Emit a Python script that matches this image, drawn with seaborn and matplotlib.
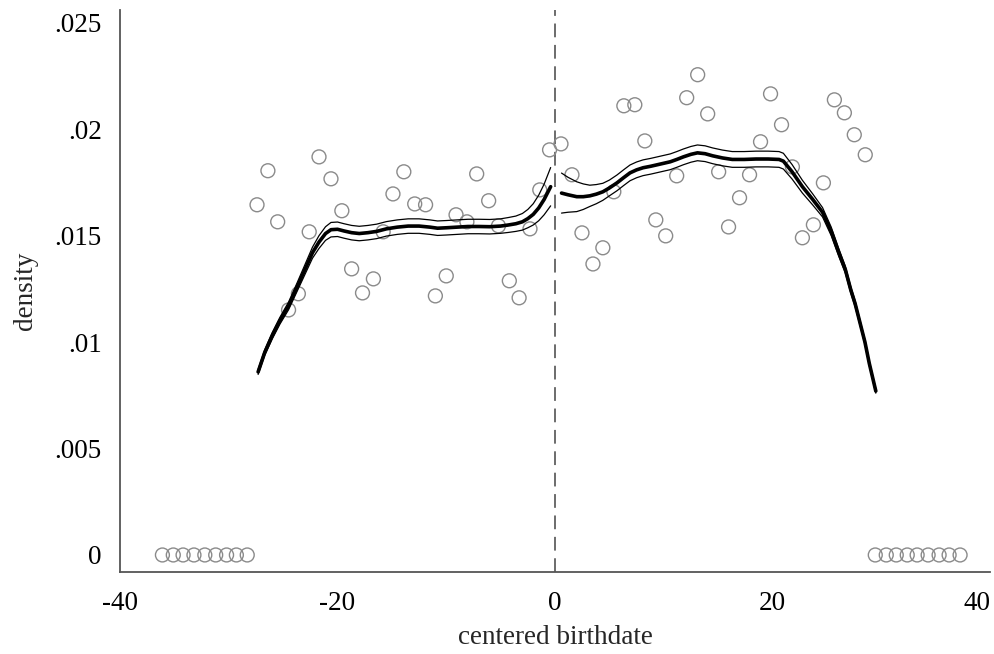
import numpy as np
import pandas as pd
import seaborn as sns
import matplotlib.pyplot as plt

sns.set_theme(style="white")
plt.rcParams['font.family'] = ['Liberation Serif', 'DejaVu Serif']

# binned densities
x_zero_left = [-36.1, -35.1, -34.2, -33.2, -32.2, -31.2, -30.2, -29.3, -28.3]
x_left = [-27.4, -26.4, -25.5, -24.5, -23.6, -22.6, -21.7, -20.6, -19.6, -18.7,
          -17.7, -16.7, -15.8, -14.9, -13.9, -12.9, -11.9, -11.0, -10.0, -9.1,
          -8.1, -7.2, -6.1, -5.2, -4.2, -3.3, -2.3, -1.4, -0.5]
dens_left = [.01645, .01805, .01565, .01151, .01227, .01518, .0187, .01767, .01617, .01344,
             .01231, .01297, .01518, .01696, .0180, .01649, .01645, .01217, .01311, .01598,
             .01565, .0179, .01664, .01546, .01288, .01208, .01532, .01715, .01903]
x_right = [0.55, 1.56, 2.48, 3.49, 4.40, 5.41, 6.33, 7.34, 8.26, 9.27,
           10.18, 11.19, 12.11, 13.12, 14.04, 15.05, 15.96, 16.97, 17.89, 18.90,
           19.82, 20.83, 21.83, 22.75, 23.76, 24.68, 25.69, 26.61, 27.52, 28.53]
dens_right = [.01931, .01786, .01513, .01367, .01443, .01706, .0211, .02115, .01945, .01574,
              .01499, .01781, .02148, .02256, .02072, .0180, .01541, .01678, .01786, .01941,
              .02166, .02021, .01823, .0149, .01551, .01748, .02138, .02077, .01974, .0188]
x_zero_right = [29.45, 30.46, 31.38, 32.39, 33.30, 34.31, 35.32, 36.24, 37.25]

# fitted density with confidence band, each side of the cutoff
fit_x_left = [-27.3, -26.7, -26.0, -25.3, -24.5, -23.7, -23.0, -22.3, -21.7, -21.1,
              -20.6, -20.0, -19.4, -18.7, -18.0, -17.2, -16.4, -15.5, -14.5, -13.5,
              -12.5, -11.5, -10.8, -10.0, -9.0, -8.0, -7.0, -6.0, -5.0, -4.3,
              -3.6, -3.0, -2.5, -2.0, -1.5, -1.0, -0.4]
fit_left = [.0086, .0095, .0103, .0110, .0117, .0126, .0134, .0142, .0147, .0151,
            .01528, .0153, .01522, .01514, .0151, .01514, .0152, .01532, .0154, .01545,
            .01545, .0154, .01535, .01537, .0154, .01543, .01543, .01542, .01545, .0155,
            .01556, .01565, .0158, .0160, .0163, .0167, .0173]
band_left = [.00012, .00013, .00015, .00016, .00018, .0002, .00023, .00026, .0003, .00032,
             .00034, .00034, .00034, .00034, .00034, .00034, .00034, .00034, .00034, .00034,
             .00034, .00034, .00034, .00034, .00034, .00034, .00034, .00034, .00034, .00035,
             .00036, .00039, .00043, .0005, .0006, .00072, .0009]
fit_x_right = [0.6, 1.2, 2.0, 2.6, 3.2, 3.8, 4.4, 5.0, 5.7, 6.3,
               6.9, 7.5, 8.1, 8.8, 9.4, 10.0, 10.6, 11.2, 11.8, 12.5,
               13.1, 13.8, 14.5, 15.4, 16.3, 17.4, 18.5, 19.6, 20.6, 21.0,
               21.8, 22.75, 23.7, 24.6, 25.4, 26.1, 26.7, 27.2, 27.6, 28.0,
               28.5, 28.9, 29.5]
fit_right = [.0170, .01692, .01683, .01683, .01687, .01695, .01706, .01724, .01748, .01772,
             .01795, .01809, .01819, .01826, .01833, .0184, .01847, .01858, .0187, .01882,
             .01889, .01885, .01875, .01865, .01858, .01858, .0186, .0186, .01858, .0185,
             .0180, .0173, .0167, .0161, .0152, .0142, .0134, .01245, .0118, .0110,
             .0100, .0090, .0077]
band_right = [.00094, .00082, .0007, .0006, .0005, .00045, .0004, .00037, .00037, .00037,
              .00037, .00037, .00037, .00037, .00037, .00037, .00037, .00037, .00037, .00037,
              .00037, .00037, .00037, .00037, .00037, .00037, .00037, .00037, .00037, .00037,
              .00034, .0003, .00026, .00022, .0002, .00018, .00016, .00015, .00014, .00012,
              .00011, .0001, .0001]

fig = plt.figure(figsize=(9.94, 6.54), dpi=100)
ax = fig.add_axes([120 / 994, 1 - 572 / 654, 870 / 994, 562 / 654])

pts = pd.DataFrame({
    'x': x_zero_left + x_left + x_right + x_zero_right,
    'y': [0] * len(x_zero_left) + dens_left + dens_right + [0] * len(x_zero_right),
})
sns.scatterplot(data=pts, x='x', y='y', ax=ax, marker='o', s=100,
                facecolor='none', edgecolor='#8a8a8a', linewidth=1.0, zorder=2)

for fx, fy, hw in [(fit_x_left, fit_left, band_left), (fit_x_right, fit_right, band_right)]:
    fx, fy, hw = np.array(fx), np.array(fy), np.array(hw)
    sns.lineplot(x=fx, y=fy, ax=ax, color='black', linewidth=2.6, zorder=3)
    sns.lineplot(x=fx, y=fy + hw, ax=ax, color='black', linewidth=0.9, zorder=3)
    sns.lineplot(x=fx, y=fy - hw, ax=ax, color='black', linewidth=0.9, zorder=3)

ax.axvline(0, color='#444444', linewidth=1.1, linestyle=(0, (9, 5)), zorder=1)

ax.set_xlim(-40, 40)
ax.set_ylim(-0.0008, 0.0256)
ax.set_xticks([-40, -20, 0, 20, 40])
ax.set_xticklabels(['-40', '-20', '0', '20', '40'])
ax.set_yticks([0, .005, .01, .015, .02, .025])
ax.set_yticklabels(['0', '.005', '.01', '.015', '.02', '.025'])
ax.tick_params(length=0, labelsize=19.5, colors='black')
ax.tick_params(axis='y', pad=13)
ax.tick_params(axis='x', pad=14)
ax.get_xticklabels()[-1].set_horizontalalignment('right')
ax.set_xlabel('centered birthdate', fontsize=19.5, labelpad=6)
ax.set_ylabel('density', fontsize=19.5, labelpad=12)

for side in ['top', 'right']:
    ax.spines[side].set_visible(False)
for side in ['left', 'bottom']:
    ax.spines[side].set_color('#555555')
    ax.spines[side].set_linewidth(1.3)

fig.savefig('out.png', dpi=100)
